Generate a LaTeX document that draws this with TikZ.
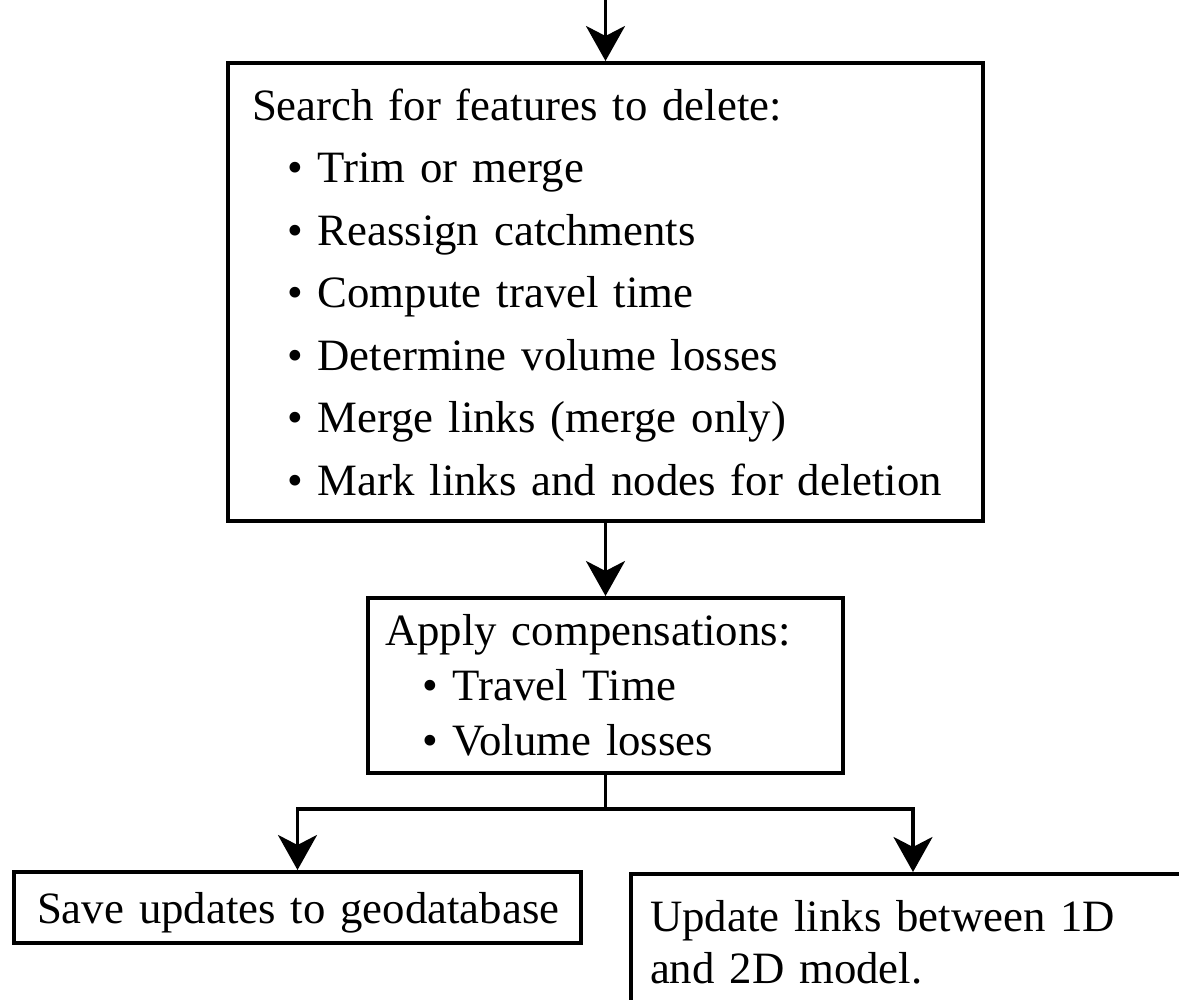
\documentclass[tikz,border=0pt]{standalone}
\usepackage{fontspec}
\setmainfont{Liberation Serif}
\usepackage{tikz}
\usetikzlibrary{positioning}
\usetikzlibrary{arrows.meta}

\begin{document}
\begin{tikzpicture}[x=0.5pt,y=-0.5pt,
	  box/.style={draw,line width=2pt,rectangle,align=left},
	  flow/.style={line width=1.8pt,-{Stealth[length=17.5pt,width=19.5pt,inset=5pt]}},
	  big/.style={font=\fontsize{22.4}{31.25}\selectfont},
	  small/.style={font=\fontsize{22.4}{27.5}\selectfont}]
	  \useasboundingbox (0,0) rectangle (1179,1000);
	  \clip (0,0) rectangle (1179,1000);
	  \coordinate (T) at (605.5,0);
	  \node (A) [box,big,minimum width=377.5pt,minimum height=229pt,inner xsep=12pt,text width=353.5pt] at (605.5,292)
	  {Search for features to delete:\\
	  \hspace*{17.5pt}• Trim or merge\\
	  \hspace*{17.5pt}• Reassign catchments\\
	  \hspace*{17.5pt}• Compute travel time\\
	  \hspace*{17.5pt}• Determine volume losses\\
	  \hspace*{17.5pt}• Merge links (merge only)\\
	  \hspace*{17.5pt}• Mark links and nodes for deletion};
	  \node (B) [box,small,minimum width=237.5pt,minimum height=87.5pt,inner xsep=8.5pt,text width=220.5pt] at (605.5,685.5)
	  {Apply compensations:\\
	  \hspace*{18.5pt}• Travel Time\\
	  \hspace*{18.5pt}• Volume losses};
	  \coordinate (S) at (605.5,809);
	  \node (C) [box,small,minimum width=283.5pt,minimum height=35.5pt,inner xsep=11.5pt,text width=260.5pt,text depth=0pt] at (297.5,907.5)
	  {\mbox{Save updates to geodatabase}};
	  \node (D) [box,font=\fontsize{22.4}{26}\selectfont,anchor=north west,inner xsep=9.5pt,inner ysep=13pt,text width=300pt] at (629,872)
	  {Update links between 1D\\and 2D model.};
	  \draw[flow] (T) -- (A.north);
	  \draw[flow] (A.south) -- (B.north);
	  \draw[line width=1.8pt] (B.south) -- (S);
	  \draw[flow] (S) -| (C.north);
	  \draw[flow] (S) -| ([xshift=142pt]D.north west);
\end{tikzpicture}
\end{document}
